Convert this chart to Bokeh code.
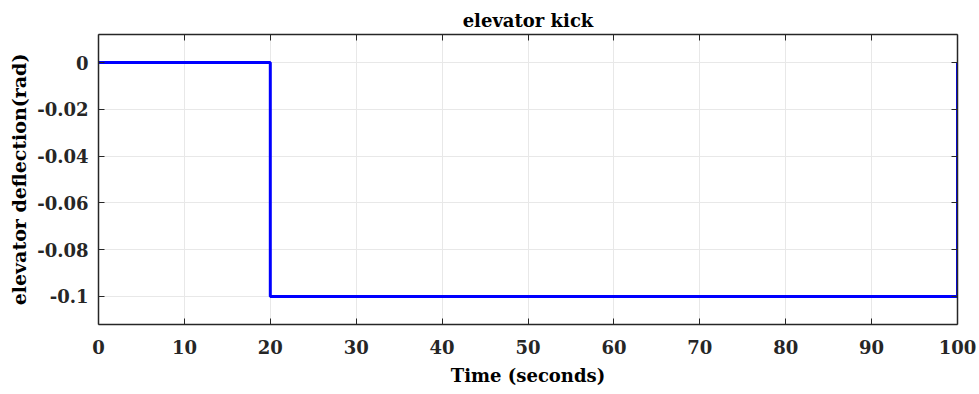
from bokeh.plotting import figure
from bokeh.models import LinearAxis, FixedTicker, Range1d
from bokeh.embed import file_html
from bokeh.resources import INLINE

# data
time_s = [0, 20, 20, 100, 100]
deflection = [0, 0, -0.1, -0.1, 0]
x_ticks = [0, 10, 20, 30, 40, 50, 60, 70, 80, 90, 100]
y_ticks = [0, -0.02, -0.04, -0.06, -0.08, -0.1]
y_tick_labels = ["0", "-0.02", "-0.04", "-0.06", "-0.08", "-0.1"]

FONT = "DejaVu Serif"
AX = "#262626"

p = figure(width=979, height=394, output_backend="svg", toolbar_location=None,
           x_range=Range1d(0, 100), y_range=Range1d(-0.112, 0.012),
           min_border_left=98, min_border_right=22, min_border_top=34, min_border_bottom=70,
           x_axis_label="Time (seconds)", y_axis_label="elevator deflection(rad)",
           title="elevator kick")
p.title.align = "center"
p.title.text_font = FONT
p.title.text_font_size = "18px"
p.title.text_font_style = "bold"
p.title.text_color = "black"
p.title.standoff = 8
p.outline_line_color = None
p.background_fill_color = "white"
p.border_fill_color = "white"

p.line(time_s, deflection, line_color="#0000ff", line_width=3)

p.xaxis.ticker = FixedTicker(ticks=x_ticks)
p.yaxis.ticker = FixedTicker(ticks=y_ticks)
p.yaxis.major_label_overrides = {v: s for v, s in zip(y_ticks, y_tick_labels)}

for ax in [p.xaxis[0], p.yaxis[0]]:
    ax.major_tick_in = 6
    ax.major_tick_out = 0
    ax.minor_tick_in = 0
    ax.minor_tick_out = 0
    ax.axis_line_color = AX
    ax.major_tick_line_color = AX
    ax.axis_line_width = 1.5
    ax.major_label_text_font = FONT
    ax.major_label_text_font_style = "bold"
    ax.major_label_text_font_size = "18px"
    ax.major_label_text_color = AX
    ax.axis_label_text_font = FONT
    ax.axis_label_text_font_style = "bold"
    ax.axis_label_text_color = "black"

p.xaxis.major_label_standoff = 15
p.xaxis.axis_label_standoff = 8
p.xaxis.axis_label_text_font_size = "18px"
p.yaxis.major_label_standoff = 10
p.yaxis.axis_label_standoff = 4
p.yaxis.axis_label_text_font_size = "19px"

# top and right box axes, ticks only
top = LinearAxis(ticker=FixedTicker(ticks=x_ticks))
right = LinearAxis(ticker=FixedTicker(ticks=y_ticks))
for ax in [top, right]:
    ax.major_tick_in = 6
    ax.major_tick_out = 0
    ax.minor_tick_in = 0
    ax.minor_tick_out = 0
    ax.axis_line_color = AX
    ax.major_tick_line_color = AX
    ax.axis_line_width = 1.5
    ax.major_label_text_alpha = 0
    ax.major_label_text_font_size = "1px"
    ax.major_label_standoff = 0
p.add_layout(top, "above")
p.add_layout(right, "right")

p.xgrid.grid_line_color = "#e8e8e8"
p.ygrid.grid_line_color = "#e8e8e8"
p.xgrid.ticker = FixedTicker(ticks=x_ticks)
p.ygrid.ticker = FixedTicker(ticks=y_ticks)

open("out.html", "w").write(file_html(p, INLINE))
